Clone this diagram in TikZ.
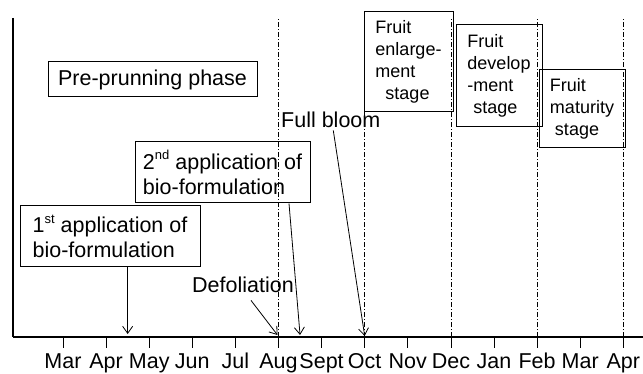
\documentclass[tikz,border=0pt]{standalone}
\usepackage{fontspec}
\setmainfont{Liberation Sans}
\usetikzlibrary{arrows.meta, calc, positioning}

\newcommand{\ordsup}[1]{\raisebox{0.45em}{\fontsize{13}{13}\selectfont #1}}

\tikzset{
  phase/.style = {draw, line width=1pt, align=left, inner sep=0pt, font=\fontsize{21.5}{25}\selectfont},
  stagebox/.style = {draw, line width=1pt, align=left, inner sep=0pt, font=\fontsize{18}{22}\selectfont},
  marker/.style = {line width=0.8pt, dash pattern=on 5pt off 2pt on 1pt off 2pt},
  pointer/.style = {line width=0.8pt, -{Straight Barb[length=7pt,width=10pt]}},
  mlabel/.style = {anchor=base, inner sep=0pt, font=\fontsize{21.5}{25}\selectfont}
}

\begin{document}
\begin{tikzpicture}[x=1pt, y=-1pt]
  \useasboundingbox (0,0) rectangle (643,374);

  % axes
  \coordinate (O) at (13,337);
  \coordinate (T) at (13,18);
  \draw[line width=1.5pt] (T) -- (O);
  \draw[line width=2pt] (O) -- (643,337);

  % months
  \foreach \m [count=\i from 0] in {Mar,Apr,May,Jun,Jul,Aug,Sept,Oct,Nov,Dec,Jan,Feb,Mar,Apr} {
    \coordinate (m\i) at (63+43.1*\i,337);
    \draw[line width=0.8pt] (m\i) -- ++(0,11);
    \node[mlabel] (lab\i) at ($(m\i)+(0,31)$) {\m};
  }
  \foreach \i in {5,7,9,11,13}
    \draw[marker] (m\i) -- (m\i |- T);

  % phases
  \node[phase, minimum width=209pt, minimum height=35pt] (prune) at (152.5,79.5) {Pre-prunning phase};
  \node[phase, minimum width=175pt, minimum height=61pt] (second) at (222.5,172.5)
    {2\ordsup{nd} application of\\bio-formulation};
  \node[phase, minimum width=180pt, minimum height=61pt] (first) at (110,236.5)
    {1\ordsup{st} application of\\bio-formulation};
  \node[mlabel, anchor=base west] (bloom) at (281,128) {Full bloom};
  \node[mlabel, anchor=base west] (defol) at (192,293) {Defoliation};

  % fruit stages
  \node[stagebox, minimum width=89pt, minimum height=100pt] (enlarge) at (408.5,62)
    {Fruit\\enlarge-\\ment\\\hspace{10pt}stage};
  \node[stagebox, minimum width=86pt, minimum height=102pt] (develop) at (499,76)
    {Fruit\\develop\\-ment\\\hspace{6pt}stage};
  \node[stagebox, minimum width=86pt, minimum height=78pt] (mature) at (582,109)
    {Fruit\\maturity\\\hspace{5pt}stage};

  % events
  \coordinate (tipA) at ($(m1)!0.5!(m2)+(0,-3)$);
  \coordinate (tipB) at ($(m5)!0.5!(m6)+(0,-2)$);
  \draw[pointer] (first.south -| tipA) -- (tipA);
  \draw[pointer] ($(defol.south)+(8,7)$) -- ($(m5)+(-1,-2)$);
  \draw[pointer] ($(second.south)+(66.5,0)$) -- (tipB);
  \draw[pointer] ($(bloom.south)+(2.5,2)$) -- ($(m7)+(0,-1)$);
\end{tikzpicture}
\end{document}
